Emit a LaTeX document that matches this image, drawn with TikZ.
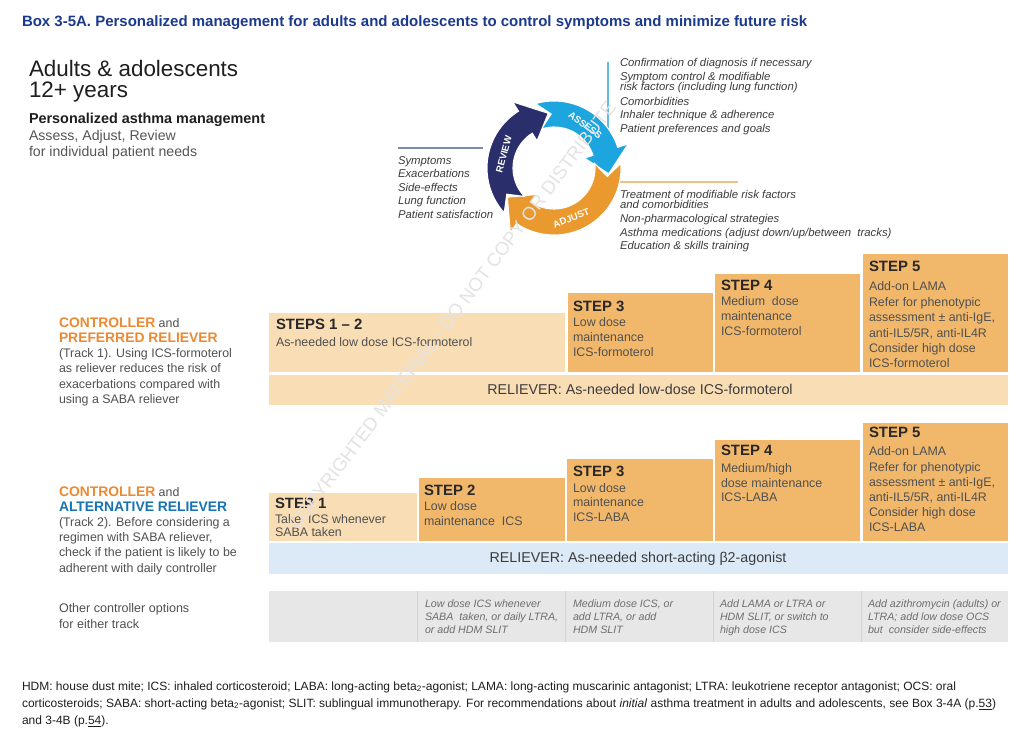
\documentclass[tikz,border=0pt]{standalone}
\usepackage{fontspec}
\setmainfont{Liberation Sans}
\usetikzlibrary{calc}
\definecolor{titleC}{RGB}{28,58,140}
\definecolor{revC}{RGB}{42,46,106}
\definecolor{assC}{RGB}{28,165,222}
\definecolor{adjC}{RGB}{233,153,46}
\definecolor{lightS}{RGB}{249,221,181}
\definecolor{darkS}{RGB}{241,184,108}
\definecolor{blueBand}{RGB}{220,234,247}
\definecolor{grayBand}{RGB}{231,231,231}
\definecolor{divC}{RGB}{212,212,212}
\definecolor{hdC}{RGB}{30,30,30}
\definecolor{subC}{RGB}{85,85,85}
\definecolor{txtC}{RGB}{80,80,80}
\definecolor{stC}{RGB}{40,40,40}
\definecolor{cycC}{RGB}{60,60,60}
\definecolor{cellC}{RGB}{110,110,110}
\definecolor{relC}{RGB}{60,60,60}
\definecolor{ctrlO}{RGB}{236,138,50}
\definecolor{altB}{RGB}{22,116,178}
\definecolor{lineRev}{RGB}{125,138,172}
\definecolor{lineAss}{RGB}{95,188,230}
\definecolor{lineAdj}{RGB}{242,192,132}
\newcommand{\ctrlword}[2]{{\fontsize{10.4}{11.4}\selectfont\bfseries\color{#1}#2}}
\newcommand{\ml}[1]{\begin{tabular}[t]{@{}l@{}}#1\end{tabular}}
\newcommand{\carrow}[4]{%
  \fill[#1, draw=white, line width=0.8pt]
    plot[domain=#2:#3, samples=40] (\x:67) -- (#3:78) -- (#4:55) -- (#3:32)
    -- plot[domain=#3:#2+2, samples=40] (\x:41) -- (#2-13:54) -- cycle;}
\begin{document}
\begin{tikzpicture}[x=0.75pt,y=-0.75pt,
  t/.style={inner sep=0pt, outer sep=0pt, anchor=base west},
  body/.style={t, text=txtC, font=\fontsize{9.3}{11.4}\selectfont},
  stitle/.style={t, text=stC, font=\fontsize{11.2}{12}\selectfont\bfseries},
  cyc/.style={t, text=cycC, font=\fontsize{8.5}{10.2}\selectfont\itshape},
  cell/.style={t, text=cellC, font=\fontsize{8}{9.75}\selectfont\itshape},
  rel/.style={inner sep=0pt, anchor=base, text=relC, font=\fontsize{10.7}{12}\selectfont},
  arrowlbl/.style={inner sep=0pt, text=white, font=\fontsize{7.2}{7}\selectfont\bfseries},
  foot/.style={t, text=hdC, font=\fontsize{9}{10}\selectfont}]
\useasboundingbox[fill=white] (0,0) rectangle (1024,733);

% title
\node[t, text=titleC, font=\fontsize{11.24}{13}\selectfont\bfseries] (title) at (22,26.5)
  {Box 3-5A. Personalized management for adults and adolescents to control symptoms and minimize future risk};

% heading left
\node[t, text=hdC, font=\fontsize{16.8}{15.5}\selectfont] (h1) at (29,76) {\ml{Adults \& adolescents\\12+ years}};
\node[t, text=hdC, font=\fontsize{10.8}{13}\selectfont\bfseries] (h3) at (29,123.3) {Personalized asthma management};
\node[t, text=subC, font=\fontsize{10.6}{12.5}\selectfont] (h4) at (29,140) {\ml{Assess, Adjust, Review\\for individual patient needs}};

% cycle guide lines
\draw[lineRev, line width=1pt] (398,148) -- (483,148);
\draw[lineAss, line width=1pt] (608,62) -- (608,130);
\draw[lineAdj, line width=1pt] (620,182) -- (738,182);

% cycle
\begin{scope}[shift={(554,168)}, yscale=-1]
  \carrow{assC}{106}{18}{-6}
  \carrow{adjC}{4}{-124}{-148}
  \carrow{revC}{222}{122}{96}
  \node[arrowlbl, rotate=75] (lrev) at (165:52) {REVIEW};
  \node[arrowlbl, rotate=-37] (lass) at (54:53) {ASSESS};
  \node[arrowlbl, rotate=22] (ladj) at (-71:53) {ADJUST};
\end{scope}

% cycle lists
\node[cyc] (lassess) at (620,66.7) {\ml{Confirmation of diagnosis if necessary\\Symptom control \& modifiable\\[-2.3pt]risk factors (including lung function)\\[0.6pt]Comorbidities\\Inhaler technique \& adherence\\Patient preferences and goals}};
\node[cyc] (lreview) at (398,164) {\ml{Symptoms\\Exacerbations\\Side-effects\\Lung function\\Patient satisfaction}};
\node[cyc] (ladjust) at (620,198.3) {\ml{Treatment of modifiable risk factors\\[-2.6pt]and comorbidities\\[0.4pt]Non-pharmacological strategies\\Asthma medications (adjust down/up/between\ \ tracks)\\Education \& skills training}};

% track 1 boxes
\fill[lightS] (269,313) rectangle (565,372);
\fill[darkS] (567.5,293) rectangle (712.5,372);
\fill[darkS] (715,274) rectangle (860,372);
\fill[darkS] (862.5,254) rectangle (1008,372);
\fill[lightS] (269,374.5) rectangle (1008,405);

% track 2 boxes
\fill[lightS] (268.5,493) rectangle (416.5,540.5);
\fill[darkS] (419,478) rectangle (564.5,540.5);
\fill[darkS] (567,459) rectangle (712.5,540.5);
\fill[darkS] (715,440) rectangle (860,540.5);
\fill[darkS] (862.5,423) rectangle (1008,540.5);
\fill[blueBand] (268.5,543) rectangle (1008,574);

% other options band
\fill[grayBand] (268.5,591) rectangle (1008,642);
\foreach \dx in {417.5,565.5,713.5,861.5} \draw[divC, line width=0.7pt] (\dx,591) -- (\dx,642);

% track labels
\node[t, text=txtC, font=\fontsize{9.3}{11.4}\selectfont] (tr1) at (59,327.3)
  {\ml{\ctrlword{ctrlO}{CONTROLLER} and\\\ctrlword{ctrlO}{PREFERRED RELIEVER}\\(Track 1). Using ICS-formoterol\\as reliever reduces the risk of\\exacerbations compared with\\using a SABA reliever}};
\node[t, text=txtC, font=\fontsize{9.3}{11.4}\selectfont] (tr2) at (59,496)
  {\ml{\ctrlword{ctrlO}{CONTROLLER} and\\\ctrlword{altB}{ALTERNATIVE RELIEVER}\\(Track 2). Before considering a\\regimen with SABA reliever,\\check if the patient is likely to be\\adherent with daily controller}};

% track 1 texts
\node[stitle] (s12t) at (276,329) {STEPS 1 – 2};
\node[body] (s12b) at (276,346.5) {As-needed low dose ICS-formoterol};
\node[stitle] (s3t) at (573,311) {STEP 3};
\node[body, font=\fontsize{9.3}{11.25}\selectfont] (s3b) at (573,326.7) {\ml{Low dose\\maintenance\\ICS-formoterol}};
\node[stitle] (s4t) at (721,290.5) {STEP 4};
\node[body, font=\fontsize{9.3}{11.25}\selectfont] (s4b) at (721,305) {\ml{Medium\ \ dose\\maintenance\\ICS-formoterol}};
\node[stitle] (s5t) at (869,271.7) {STEP 5};
\node[body] (s5b) at (869,290.7) {\ml{Add-on LAMA\\[0.6pt]Refer for phenotypic\\assessment ± anti-IgE,\\anti-IL5/5R, anti-IL4R\\Consider high dose\\ICS-formoterol}};
\node[rel] (rel1) at (640,394) {RELIEVER: As-needed low-dose ICS-formoterol};

% track 2 texts
\node[stitle] (u1t) at (275,508) {STEP 1};
\node[body, font=\fontsize{9.3}{10}\selectfont] (u1b) at (275,523.3) {\ml{Take\ \ ICS whenever\\SABA taken}};
\node[stitle] (u2t) at (424,495) {STEP 2};
\node[body, font=\fontsize{9.3}{10.8}\selectfont] (u2b) at (424,510.7) {\ml{Low dose\\maintenance\ \ ICS}};
\node[stitle] (u3t) at (573,476) {STEP 3};
\node[body, font=\fontsize{9.3}{10.8}\selectfont] (u3b) at (573,492.3) {\ml{Low dose\\maintenance\\ICS-LABA}};
\node[stitle] (u4t) at (721,455) {STEP 4};
\node[body, font=\fontsize{9.3}{10.9}\selectfont] (u4b) at (721,472.7) {\ml{Medium/high\\dose maintenance\\ICS-LABA}};
\node[stitle] (u5t) at (869,437.7) {STEP 5};
\node[body, font=\fontsize{9.3}{11.2}\selectfont] (u5b) at (869,455) {\ml{Add-on LAMA\\[1pt]Refer for phenotypic\\assessment ± anti-IgE,\\anti-IL5/5R, anti-IL4R\\Consider high dose\\ICS-LABA}};
\node[rel] (rel2) at (638,562.7) {RELIEVER: As-needed short-acting β2-agonist};

% other controller options
\node[t, text=txtC, font=\fontsize{9.4}{12}\selectfont] (oth) at (59,612) {\ml{Other controller options\\for either track}};
\node[cell] (c2) at (425,607.3) {\ml{Low dose ICS whenever\\SABA\ \ taken, or daily LTRA,\\or add HDM SLIT}};
\node[cell] (c3) at (573,607.3) {\ml{Medium dose ICS, or\\add LTRA, or add\\HDM SLIT}};
\node[cell] (c4) at (720,607.3) {\ml{Add LAMA or LTRA or\\HDM SLIT, or switch to\\high dose ICS}};
\node[cell] (c5) at (868,607.3) {\ml{Add azithromycin (adults) or\\LTRA; add low dose OCS\\but\ \ consider side-effects}};

% footnote
\node[foot] (f1) at (22,690) {HDM: house dust mite; ICS: inhaled corticosteroid; LABA: long-acting beta\textsubscript{2}-agonist; LAMA: long-acting muscarinic antagonist; LTRA: leukotriene receptor antagonist; OCS: oral};
\node[foot] (f2) at (22,707) {corticosteroids; SABA: short-acting beta\textsubscript{2}-agonist; SLIT: sublingual immunotherapy. For recommendations about \textit{initial} asthma treatment in adults and adolescents, see Box 3-4A (p.\underline{53})};
\node[foot] (f3) at (22,724) {and 3-4B (p.\underline{54}).};

% watermark
\node[rotate=53, text=black!11, font=\fontsize{14}{14}\selectfont, inner sep=0pt] (wm) at (452,316) {COPYRIGHTED MATERIAL - DO NOT COPY OR DISTRIBUTE};
\end{tikzpicture}
\end{document}
